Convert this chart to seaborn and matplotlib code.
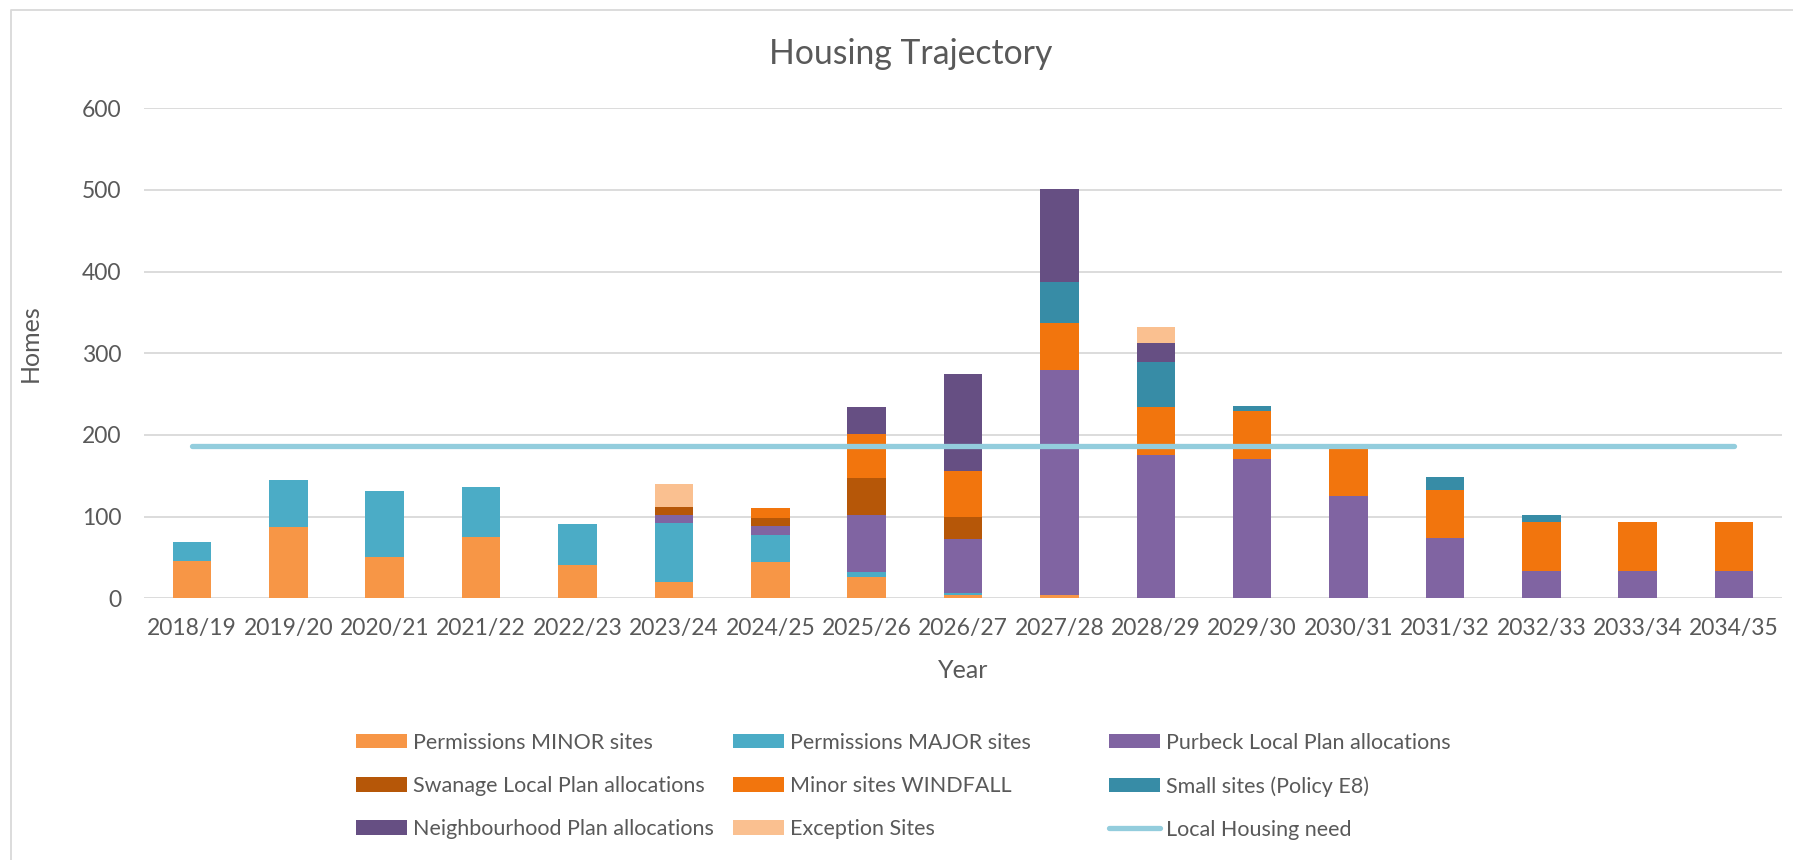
# %%
import numpy as np
import pandas as pd
import matplotlib.pyplot as plt
from matplotlib.patches import Patch
from matplotlib.lines import Line2D
import seaborn as sns

# %%
years = ["2018/19", "2019/20", "2020/21", "2021/22", "2022/23", "2023/24",
         "2024/25", "2025/26", "2026/27", "2027/28", "2028/29", "2029/30",
         "2030/31", "2031/32", "2032/33", "2033/34", "2034/35"]

minor_sites = [46, 87, 51, 75, 41, 20, 45, 26, 4, 4, 0, 0, 0, 0, 0, 0, 0]
major_sites = [23, 58, 80, 61, 50, 72, 33, 6, 3, 0, 0, 0, 0, 0, 0, 0, 0]
purbeck_lp = [0, 0, 0, 0, 0, 10, 10, 70, 66, 275, 175, 170, 125, 74, 34, 34, 34]
swanage_lp = [0, 0, 0, 0, 0, 10, 10, 45, 26, 0, 0, 0, 0, 0, 0, 0, 0]
windfall = [0, 0, 0, 0, 0, 0, 12, 54, 57, 58, 59, 59, 59, 59, 60, 60, 60]
small_sites = [0, 0, 0, 0, 0, 0, 0, 0, 0, 50, 55, 7, 0, 15, 8, 0, 0]
neighbourhood = [0, 0, 0, 0, 0, 0, 0, 33, 119, 114, 23, 0, 0, 0, 0, 0, 0]
exception = [0, 0, 0, 0, 0, 28, 0, 0, 0, 0, 20, 0, 0, 0, 0, 0, 0]
housing_need = [186] * len(years)

series_names = ["Permissions MINOR sites", "Permissions MAJOR sites",
                "Purbeck Local Plan allocations", "Swanage Local Plan allocations",
                "Minor sites WINDFALL", "Small sites (Policy E8)",
                "Neighbourhood Plan allocations", "Exception Sites"]
series_values = [minor_sites, major_sites, purbeck_lp, swanage_lp,
                 windfall, small_sites, neighbourhood, exception]
colors = ["#F79646", "#4BACC6", "#8064A2", "#B65708",
          "#F2750D", "#378CA6", "#664F83", "#FAC090"]
line_color = "#93CDDD"
text_color = "#595959"

# %%
df = pd.DataFrame(dict(zip(series_names, series_values)), index=years)
cum = df.cumsum(axis=1)
cum["Year"] = years

sns.set_style("white")
plt.rcParams["font.family"] = ["Lato", "DejaVu Sans"]

fig = plt.figure(figsize=(17.93, 8.6), dpi=100)
ax = fig.add_axes([0.0802, 0.3043, 0.9138, 0.5698])

# stacked bars: tallest cumulative first, lower layers drawn on top
for name, col in reversed(list(zip(series_names, colors))):
  sns.barplot(
    data=cum,
    x="Year",
    y=name,
    order=years,
    color=col,
    width=0.4,
    saturation=1,
    linewidth=0,
    errorbar=None,
    ax=ax,
  )

ax.plot(np.arange(len(years)), housing_need, color=line_color,
        lw=3.8, solid_capstyle="round", zorder=5)

ax.set_ylim(0, 600)
ax.set_xlim(-0.5, len(years) - 0.5)
ax.set_yticks(range(0, 601, 100))
ax.yaxis.grid(True, color="#D9D9D9", lw=1.3)
ax.set_axisbelow(True)
for s in ax.spines.values():
  s.set_visible(False)
ax.tick_params(axis="both", length=0, labelsize=16.5, labelcolor=text_color)
ax.tick_params(axis="x", pad=14)
ax.tick_params(axis="y", pad=16)
ax.set_xlabel("Year", fontsize=18, color=text_color)
ax.set_ylabel("Homes", fontsize=18, color=text_color)
ax.xaxis.set_label_coords(0.5, -0.124)
ax.yaxis.set_label_coords(-0.062, 0.52)
fig.text(0.508, 0.937, "Housing Trajectory", fontsize=24.3,
         color=text_color, ha="center", va="center")

handles = [Patch(facecolor=c, edgecolor="none") for c in colors]
handles.append(Line2D([0], [0], color=line_color, lw=3.8, solid_capstyle="round"))
labels = series_names + ["Local Housing need"]
columns = [[0, 3, 6], [1, 4, 7], [2, 5, 8]]
col_x = [356 / 1793, 733 / 1793, 1109 / 1793]
for cx, idx in zip(col_x, columns):
  fig.legend(
    [handles[i] for i in idx],
    [labels[i] for i in idx],
    ncol=1,
    loc="upper left",
    bbox_to_anchor=(cx, 0.148),
    borderaxespad=0,
    borderpad=0,
    frameon=False,
    fontsize=15.5,
    labelcolor=text_color,
    handlelength=2.37,
    handleheight=0.65,
    handletextpad=0.29,
    labelspacing=1.08,
  )

# chart area border (left and top only, the rest is cropped)
fig.add_artist(Line2D([11 / 1793, 11 / 1793, 1], [0, 1 - 10 / 860, 1 - 10 / 860],
                      transform=fig.transFigure, color="#D9D9D9", lw=1.3))

plt.savefig("out.png", dpi=100)
